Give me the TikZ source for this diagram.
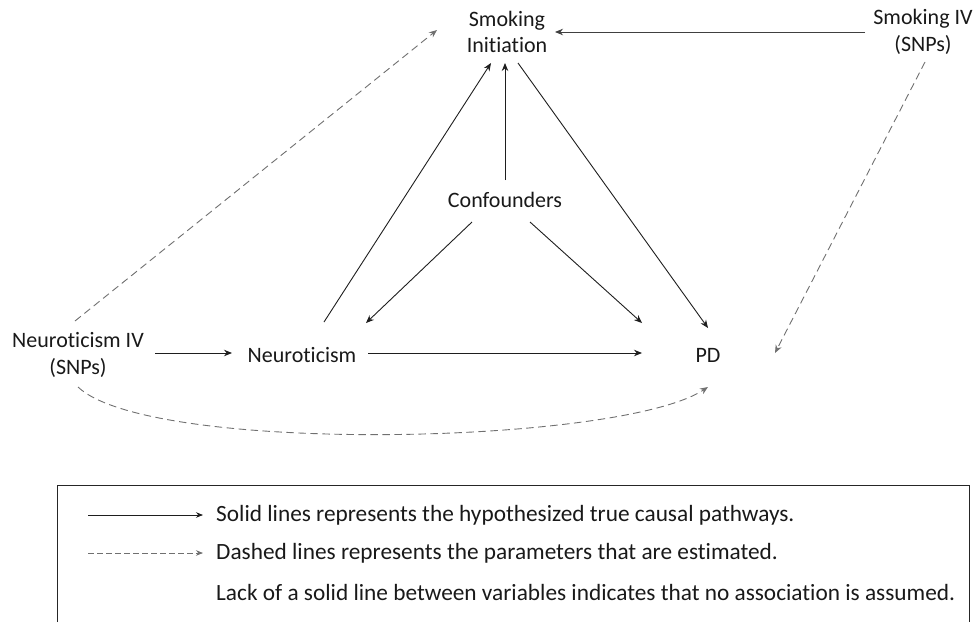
\documentclass[tikz,border=0pt]{standalone}
\usepackage{fontspec}
\setmainfont{Carlito}[Ligatures=NoCommon]
\usetikzlibrary{calc,arrows.meta}
\definecolor{solidc}{HTML}{1E1E1E}
\definecolor{dashc}{HTML}{707070}
\begin{document}
\begin{tikzpicture}[x=1pt,y=-1pt,
  lbl/.style={font=\fontsize{22}{26.5}\selectfont, text=black!90, align=center, inner sep=0pt},
  legtext/.style={font=\fontsize{23.3}{26}\selectfont, text=black!90, anchor=west, inner sep=0pt},
  solidarrow/.style={draw=solidc, line width=0.9pt, -{Stealth[length=8pt,width=6.5pt]}},
  dasharrow/.style={draw=dashc, line width=0.9pt, dash pattern=on 7.5pt off 4.5pt, -{Stealth[length=8pt,width=6.5pt]}}]
\useasboundingbox (0,0) rectangle (977,622);
% nodes
\node[lbl] (si) at (507,32) {Smoking\\Initiation};
\node[lbl] (siv) at (923,32) {Smoking IV\\(SNPs)};
\node[lbl] (conf) at (505,200) {Confounders};
\node[lbl] (niv) at (78,355) {Neuroticism IV\\(SNPs)};
\node[lbl] (neur) at (302,355) {Neuroticism};
\node[lbl] (pd) at (708,355) {PD};
% solid connectors
\draw[solidarrow, draw=black!75] ($(siv)+(-58,0)$) -- ($(si)+(48,0)$);
\draw[solidarrow] ($(niv)+(77,-2)$) -- ($(neur)+(-70,-2)$);
\draw[solidarrow] ($(neur)+(66,-2)$) -- ($(pd)+(-66,-2)$);
\draw[solidarrow] ($(neur)+(22,-33)$) -- ($(si)+(-16,31)$);
\draw[solidarrow] ($(conf)+(0,-20)$) -- ($(si)+(-2,31)$);
\draw[solidarrow] ($(si)+(11,31)$) -- ($(pd)+(0,-27)$);
\draw[solidarrow] ($(conf)+(-33,22)$) -- ($(neur)+(64,-32)$);
\draw[solidarrow] ($(conf)+(25,22)$) -- ($(pd)+(-66,-32)$);
% dashed connectors
\draw[dasharrow] ($(niv)+(-3,-34)$) -- ($(si)+(-70,-2)$);
\draw[dasharrow] ($(siv)+(2,30)$) -- ($(pd)+(67,-2)$);
\draw[dasharrow] ($(niv)+(0,32)$) .. controls ($(niv)+(72,100)$) and ($(pd)+(-88,90)$) .. ($(pd)+(0,32)$);
% legend
\draw[draw=black!85, line width=0.8pt] (57,622) -- (57,485) -- (969,485) -- (969,622);
\coordinate (l1a) at (88,515); \coordinate (l1b) at (203,515);
\coordinate (l2a) at (88,553); \coordinate (l2b) at (203,553);
\draw[solidarrow, line width=0.8pt, -{Stealth[length=7pt,width=5.5pt]}] (l1a) -- (l1b);
\draw[dasharrow, line width=0.8pt, dash pattern=on 5.5pt off 3.5pt, -{Stealth[length=7pt,width=5.5pt]}] (l2a) -- (l2b);
\node[legtext] (t1) at (216,515) {Solid lines represents the hypothesized true causal pathways.};
\node[legtext] (t2) at (216,553) {Dashed lines represents the parameters that are estimated.};
\node[legtext] (t3) at (216,592) {Lack of a solid line between variables indicates that no association is assumed.};
\end{tikzpicture}
\end{document}
